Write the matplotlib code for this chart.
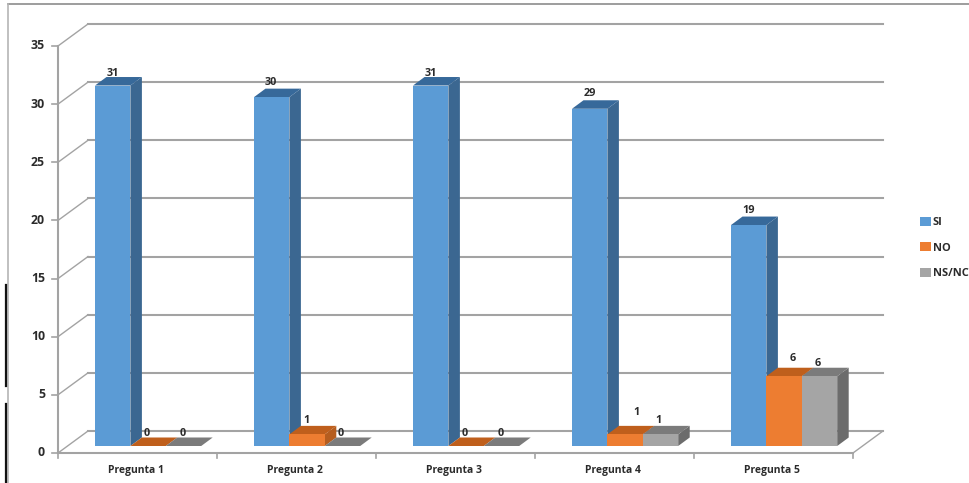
import matplotlib
matplotlib.use("Agg")
import matplotlib.pyplot as plt
from matplotlib.patches import Polygon, Patch

categories = ["Pregunta 1", "Pregunta 2", "Pregunta 3", "Pregunta 4", "Pregunta 5"]
si = [31, 30, 31, 29, 19]
no = [0, 1, 0, 1, 6]
nsnc = [0, 0, 0, 1, 6]
series_names = ["SI", "NO", "NS/NC"]
y_ticks = [0, 5, 10, 15, 20, 25, 30, 35]

W, H = 969, 483
X0, X1 = 58, 853          # front floor edge in px
Y0, Y35 = 453, 46         # value 0 and 35 in px
CAT = (X1 - X0) / 5
UNIT = (Y0 - Y35) / 35

fig = plt.figure(figsize=(W / 100, H / 100), dpi=100)
ax = fig.add_axes([0, 0, 1, 1])
ax.set_xlim(-X0 / CAT, (W - X0) / CAT)
ax.set_ylim(-(H - Y0) / UNIT, Y0 / UNIT)
ax.axis("off")

def dx(px):
    return px / CAT

def dy(px):
    return px / UNIT

GRID = "#a3a3a3"
TXT = "#2b2b2b"
FONT = "Open Sans"
n = len(categories)
WALL_X, WALL_Y = dx(30), dy(22)

# Outer frame and scan edge
ax.plot([dx(8 - 58), dx(W - 58)], [dy(Y0 - 4)] * 2, color="#8c8c8c", lw=1.2, zorder=1)
ax.plot([dx(8 - 58)] * 2, [dy(Y0 - 4), dy(Y0 - H)], color="#b5b5b5", lw=1.2, zorder=1)
ax.plot([dx(6 - 58)] * 2, [dy(Y0 - 285), dy(Y0 - 386)], color="#111111", lw=1.6, zorder=1)
ax.plot([dx(6 - 58)] * 2, [dy(Y0 - 404), dy(Y0 - H)], color="#111111", lw=1.6, zorder=1)

# Back wall gridlines, side wall diagonals, y ticks
for v in y_ticks:
    ax.plot([WALL_X, n + WALL_X], [v + WALL_Y] * 2, color=GRID, lw=1.5, zorder=1)
    ax.plot([0, WALL_X], [v, v + WALL_Y], color=GRID, lw=1.0, zorder=1)
    ax.plot([-dx(6), 0], [v, v], color=GRID, lw=1.2, zorder=1)
    ax.text(-dx(13), v, str(v), ha="right", va="center", fontsize=8.8,
            fontweight="bold", color=TXT, family=FONT, zorder=5)

# Axes lines
ax.plot([0, 0], [0, 35], color=GRID, lw=1.5, zorder=1)
ax.plot([0, n], [0, 0], color=GRID, lw=1.5, zorder=1)
ax.plot([n, n + WALL_X], [0, WALL_Y], color=GRID, lw=1.0, zorder=1)
for i in range(n + 1):
    ax.plot([i, i], [0, -dy(5)], color=GRID, lw=1.2, zorder=1)
for i, c in enumerate(categories):
    ax.text(i + 0.5 - dx(2), -dy(17), c, ha="center", va="center", fontsize=7.5,
            fontweight="bold", color=TXT, family=FONT, zorder=5)

# 3D columns
palette = [("#5b9bd5", "#3b6791", "#37699a"),
           ("#ed7d31", "#b55d1f", "#bf5f1c"),
           ("#a5a5a5", "#6c6c6c", "#7b7b7b")]
BW = dx(35.4)
START = dx(37)
DEPTH_X, DEPTH_Y = dx(11.5), dy(8.5)
BASE = dy(7)
# data-label nudges in px (series x category)
label_dx = [[0, -1, 0, 0, 0], [-1, -1, -1, 11, 9], [-1, -2, -1, -2, -2]]
label_lift = [[12, 15, 12, 15, 15], [13, 14, 13, 22, 18], [13, 13, 13, 14, 13]]

for j, vals in enumerate([si, no, nsnc]):
    front, side, top = palette[j]
    for i, v in enumerate(vals):
        left = i + START + j * BW
        right = left + BW
        t = BASE + v
        z = 3 + j
        ax.add_patch(Polygon([(right, BASE), (right + DEPTH_X, BASE + DEPTH_Y),
                              (right + DEPTH_X, t + DEPTH_Y), (right, t)],
                             closed=True, fc=side, ec="none", zorder=z))
        ax.add_patch(Polygon([(left, t), (left + DEPTH_X, t + DEPTH_Y),
                              (right + DEPTH_X, t + DEPTH_Y), (right, t)],
                             closed=True, fc=top, ec="none", zorder=z))
        ax.bar(left, v, width=BW, bottom=BASE, align="edge", color=front,
               linewidth=0, zorder=z)
        ax.text(left + BW / 2 + dx(label_dx[j][i]), t + dy(label_lift[j][i]),
                str(v), ha="center", va="center", fontsize=7.8,
                fontweight="bold", color=TXT, family=FONT, zorder=7)

# Legend
handles = [Patch(facecolor=p[0], edgecolor="none") for p in palette]
leg = ax.legend(handles, series_names, loc="center left",
                bbox_to_anchor=(920 / W, 1 - 248 / H), frameon=False,
                handlelength=0.95, handleheight=0.85, handletextpad=0.2,
                labelspacing=1.28, borderpad=0, borderaxespad=0,
                prop={"family": FONT, "weight": "bold", "size": 8.0})
for t in leg.get_texts():
    t.set_color(TXT)

fig.savefig("out.png", dpi=100, facecolor="white")
